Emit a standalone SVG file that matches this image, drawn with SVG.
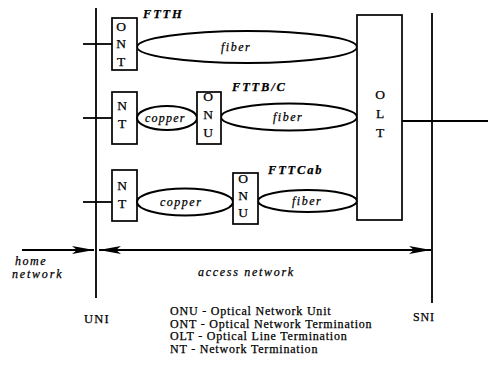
<svg xmlns="http://www.w3.org/2000/svg" width="493" height="367" viewBox="0 0 493 367">
<style>
.box{fill:#fff;stroke:#000;stroke-width:1.7}
.ell{fill:#fff;stroke:#000;stroke-width:2}
.ln{stroke:#000;stroke-width:1.8;fill:none}
text{fill:#000;stroke:#000;stroke-width:0.25}
.bl{font-family:"Liberation Serif",serif;font-size:13.5px;text-anchor:middle}
.tag{font-family:"Liberation Serif",serif;font-size:12.5px;font-weight:bold;font-style:italic;letter-spacing:1.8px}
.it{font-family:"Liberation Serif",serif;font-size:12px;font-style:italic;letter-spacing:1.5px}
.lg{font-family:"Liberation Serif",serif;font-size:12px;letter-spacing:0.8px}
</style>
<defs>
<marker id="ah" viewBox="0 0 22 8" refX="22" refY="4" markerWidth="22" markerHeight="8" markerUnits="userSpaceOnUse" orient="auto-start-reverse">
<path d="M0,0 L22,4 L0,8 L5,4 Z" fill="#000"/>
</marker>
</defs>
<g id="connectors">
<line class="ln" x1="96" y1="8" x2="96" y2="298"/>
<line class="ln" x1="432" y1="13" x2="432" y2="303"/>
<line class="ln" x1="83" y1="44" x2="112" y2="44"/>
<line class="ln" x1="83" y1="118" x2="112" y2="118"/>
<line class="ln" x1="83" y1="202" x2="112" y2="202"/>
<line class="ln" x1="402" y1="121" x2="488" y2="121"/>
<line class="ln" x1="22" y1="250" x2="94" y2="250" marker-end="url(#ah)"/>
<line class="ln" x1="99" y1="250" x2="431" y2="250" marker-start="url(#ah)" marker-end="url(#ah)"/>
</g>
<g id="ftth">
<ellipse class="ell" cx="247" cy="47" rx="110" ry="16"/>
<text class="it" x="221" y="51">fiber</text>
<rect class="box" x="112" y="18" width="25" height="52"/>
<text class="bl" x="121" y="31">O</text>
<text class="bl" x="121" y="48">N</text>
<text class="bl" x="121" y="66">T</text>
<text class="tag" x="143" y="18">FTTH</text>
</g>
<g id="fttbc">
<rect class="box" x="112" y="92" width="25" height="52"/>
<text class="bl" x="122" y="110">N</text>
<text class="bl" x="122" y="128">T</text>
<ellipse class="ell" cx="167" cy="118" rx="30" ry="12"/>
<text class="it" x="145" y="122" style="letter-spacing:1.2px">copper</text>
<ellipse class="ell" cx="289" cy="117" rx="68" ry="13.5"/>
<text class="it" x="273" y="121">fiber</text>
<rect class="box" x="197" y="92" width="24" height="52"/>
<text class="bl" x="208" y="101">O</text>
<text class="bl" x="208" y="119">N</text>
<text class="bl" x="208" y="137">U</text>
<text class="tag" x="232" y="91">FTTB/C</text>
</g>
<g id="fttcab">
<rect class="box" x="112" y="170" width="25" height="51"/>
<text class="bl" x="122" y="190">N</text>
<text class="bl" x="122" y="208">T</text>
<ellipse class="ell" cx="185" cy="202" rx="48" ry="13.5"/>
<text class="it" x="160" y="206">copper</text>
<ellipse class="ell" cx="307.5" cy="201" rx="49.5" ry="11"/>
<text class="it" x="292" y="205">fiber</text>
<rect class="box" x="233" y="173" width="25" height="51"/>
<text class="bl" x="243" y="183">O</text>
<text class="bl" x="243" y="200">N</text>
<text class="bl" x="243" y="217">U</text>
<text class="tag" x="268" y="174">FTTCab</text>
</g>
<g id="olt">
<rect class="box" x="357" y="15" width="45" height="205"/>
<text class="bl" x="380" y="99">O</text>
<text class="bl" x="380" y="118">L</text>
<text class="bl" x="380" y="137">T</text>
</g>
<g id="labels">
<text class="it" x="15" y="265">home</text>
<text class="it" x="12" y="278" style="letter-spacing:1.8px">network</text>
<text class="it" x="198" y="276" style="letter-spacing:1.7px">access network</text>
<text class="lg" x="84" y="323" style="letter-spacing:1.2px;font-size:12.5px">UNI</text>
<text class="lg" x="413" y="321" style="letter-spacing:0.8px">SNI</text>
</g>
<g id="legend">
<text class="lg" x="170" y="315">ONU - Optical Network Unit</text>
<text class="lg" x="170" y="327.5">ONT - Optical Network Termination</text>
<text class="lg" x="170" y="340">OLT - Optical Line Termination</text>
<text class="lg" x="170" y="352.5">NT - Network Termination</text>
</g>
</svg>
